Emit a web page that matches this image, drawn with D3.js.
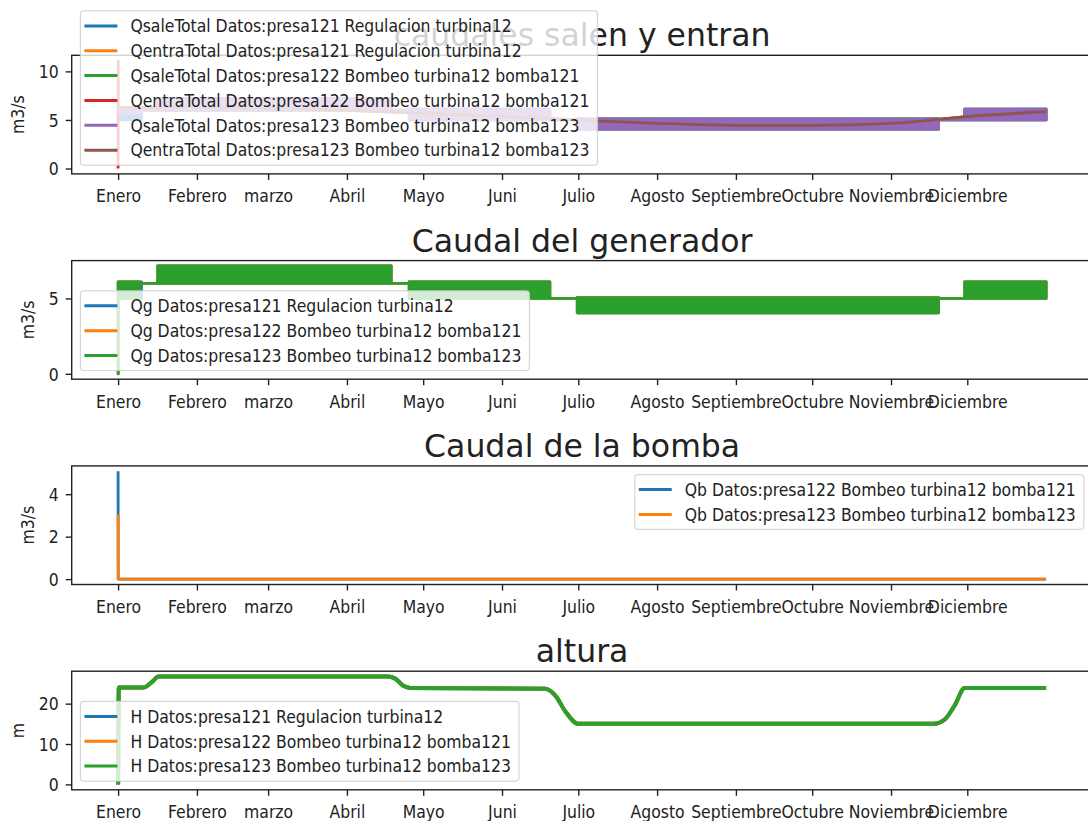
<!DOCTYPE html>
<html lang="es">
<head>
<meta charset="UTF-8"/>
<title>Caudales y altura</title>
<script src="https://d3js.org/d3.v7.min.js"></script>
<style>
  body { margin: 0; background: #fff; }
  text { fill: #222; }
  .small { font-family: "DejaVu Sans Condensed", "DejaVu Sans", sans-serif; font-stretch: condensed; font-size: 17.4px; }
  .title { font-family: "DejaVu Sans", sans-serif; font-size: 31.5px; }
</style>
</head>
<body>
<div id="chart"></div>
<script>

// x axis: day of year, ticks at month starts
var monthDays = [0, 31, 59, 90, 120, 151, 181, 212, 243, 273, 304, 334];
var monthNames = ["Enero", "Febrero", "marzo", "Abril", "Mayo", "Juni", "Julio", "Agosto", "Septiembre", "Octubre", "Noviembre", "Diciembre"];
var yearEnd = 365;

// panel 1 - outflow bands (start day, low, high of the daily swing)
var saleStart123 = [0, 8.5, 15.6, 107.4, 114.5, 169.8, 180.6, 322.7, 333];
var saleLo123 = [5.7, 6, 6, 6, 5, 5, 4.05, 5, 5];
var saleHi123 = [6.1, 6, 7.2, 6, 6.1, 5, 5.1, 5, 6.1];
var saleStart121 = [0, 9.2, 15.6, 107.4, 114.5, 169.8, 180.6, 322.7, 333];
var saleLo121 = [5, 6, 6, 6, 5, 5, 4.05, 5, 5];
var saleHi121 = [6.1, 6, 7.2, 6, 6.1, 5, 5.1, 5, 6.1];
// panel 1 - inflow (smooth)
var entraDays = [0, 31, 59, 90, 120, 151, 181, 212, 243, 273, 304, 334, 365];
var entraVals = [6.3, 6.3, 6.2, 6.0, 5.7, 5.35, 5.0, 4.65, 4.45, 4.45, 4.65, 5.35, 5.85];
var spikeDays = [0, 0.04, 0.08];
var spikeVals = [0, 11.1, 6.3];

// panel 2 - generator flow bands
var qgStart123 = [0, 0.04, 8.5, 15.6, 107.4, 114.5, 169.8, 180.6, 322.7, 333];
var qgStart121 = [0, 0.04, 9.2, 15.6, 107.4, 114.5, 169.8, 180.6, 322.7, 333];
var qgLo = [0, 5, 6, 6, 6, 5, 5, 4.05, 5, 5];
var qgHi = [0, 6.1, 6, 7.15, 6, 6.1, 5, 5.05, 5, 6.1];

// panel 3 - pump flow
var qbDays = [0, 0.04, 365];
var qb122 = [5.08, 0, 0];
var qb123 = [3.04, 0, 0];

// panel 4 - head
var hDays = [0, 0.3, 10, 13, 16, 106, 109, 112, 115, 168, 172, 176, 181, 321, 325, 329, 333, 365];
var hVals = [0, 24, 24, 25.2, 26.7, 26.7, 26.2, 24.5, 23.9, 23.7, 22, 18, 15, 15, 16, 19.5, 23.9, 23.9];

var yTicks1 = [0, 5, 10], yTicks2 = [0, 5], yTicks3 = [0, 2, 4], yTicks4 = [0, 10, 20];

var C = ["#1f77b4", "#ff7f0e", "#2ca02c", "#d62728", "#9467bd", "#8c564b"];

function bandData(start, lo, hi) {
    var d = start.map(function(s, i) { return {t: s, lo: lo[i], hi: hi[i]}; });
    var last = d[d.length - 1];
    d.push({t: yearEnd, lo: last.lo, hi: last.hi});
    return d;
}
function lineData(days, vals) {
    return days.map(function(t, i) { return {t: t, v: vals[i]}; });
}

var panels = [
  {title: "caudales salen y entran", ylab: "m3/s", ticks: yTicks1, legend: "lowerleft", series: [
    {name: "QsaleTotal Datos:presa121 Regulacion turbina12", color: C[0], band: bandData(saleStart121, saleLo121, saleHi121)},
    {name: "QentraTotal Datos:presa121 Regulacion turbina12", color: C[1], line: lineData(entraDays, entraVals)},
    {name: "QsaleTotal Datos:presa122 Bombeo turbina12 bomba121", color: C[2], band: bandData(saleStart123, saleLo123, saleHi123)},
    {name: "QentraTotal Datos:presa122 Bombeo turbina12 bomba121", color: C[3], line: lineData(spikeDays.concat(entraDays.slice(1)), spikeVals.concat(entraVals.slice(1)))},
    {name: "QsaleTotal Datos:presa123 Bombeo turbina12 bomba123", color: C[4], band: bandData(saleStart123, saleLo123, saleHi123)},
    {name: "QentraTotal Datos:presa123 Bombeo turbina12 bomba123", color: C[5], line: lineData(entraDays, entraVals)}
  ]},
  {title: "Caudal del generador", ylab: "m3/s", ticks: yTicks2, legend: "lowerleft", series: [
    {name: "Qg Datos:presa121 Regulacion turbina12", color: C[0], band: bandData(qgStart121, qgLo, qgHi)},
    {name: "Qg Datos:presa122 Bombeo turbina12 bomba121", color: C[1], band: bandData(qgStart123, qgLo, qgHi)},
    {name: "Qg Datos:presa123 Bombeo turbina12 bomba123", color: C[2], band: bandData(qgStart123, qgLo, qgHi)}
  ]},
  {title: "Caudal de la bomba", ylab: "m3/s", ticks: yTicks3, legend: "upperright", series: [
    {name: "Qb Datos:presa122 Bombeo turbina12 bomba121", color: C[0], line: lineData(qbDays, qb122), linear: true},
    {name: "Qb Datos:presa123 Bombeo turbina12 bomba123", color: C[1], line: lineData(qbDays, qb123), linear: true}
  ]},
  {title: "altura", ylab: "m", ticks: yTicks4, legend: "lowerleft", series: [
    {name: "H Datos:presa121 Regulacion turbina12", color: C[0], line: lineData(hDays, hVals), thick: true},
    {name: "H Datos:presa122 Bombeo turbina12 bomba121", color: C[1], line: lineData(hDays, hVals), thick: true},
    {name: "H Datos:presa123 Bombeo turbina12 bomba123", color: C[2], line: lineData(hDays, hVals), thick: true}
  ]}
];

var W = 1088, H = 821;
var left = 71.7, right = 1092.5;
var top0 = 55.3, step = 205.3, ph = 118.6;

var svg = d3.select("#chart").append("svg")
    .attr("width", W).attr("height", H)
    .style("display", "block");
svg.append("rect").attr("width", W).attr("height", H).attr("fill", "#fff");

var xScale = d3.scaleLinear()
    .domain([-0.05 * yearEnd, yearEnd * 1.05])
    .range([left, right]);

panels.forEach(function(p, k) {
    var top = top0 + k * step, bottom = top + ph;

    var maxV = 0;
    p.series.forEach(function(s) {
        if (s.band) maxV = Math.max(maxV, d3.max(s.band, function(d) { return d.hi; }));
        if (s.line) maxV = Math.max(maxV, d3.max(s.line, function(d) { return d.v; }));
    });
    var yScale = d3.scaleLinear()
        .domain([-0.05 * maxV, maxV * 1.05])
        .range([bottom, top]);

    var g = svg.append("g");

    // title
    g.append("text").attr("class", "title")
        .attr("x", (left + right) / 2).attr("y", top - 9)
        .attr("text-anchor", "middle")
        .text(p.title);

    var clipId = "clip" + k;
    g.append("clipPath").attr("id", clipId).append("rect")
        .attr("x", left).attr("y", top).attr("width", right - left).attr("height", ph);
    var plot = g.append("g").attr("clip-path", "url(#" + clipId + ")");

    var area = d3.area()
        .x(function(d) { return xScale(d.t); })
        .y0(function(d) { return yScale(d.lo); })
        .y1(function(d) { return yScale(d.hi); })
        .curve(d3.curveStepAfter);

    p.series.forEach(function(s) {
        if (s.band) {
            plot.append("path").datum(s.band)
                .attr("d", area)
                .attr("fill", s.color)
                .attr("stroke", s.color)
                .attr("stroke-width", 2.8)
                .attr("stroke-linejoin", "round");
        } else {
            var line = d3.line()
                .x(function(d) { return xScale(d.t); })
                .y(function(d) { return yScale(d.v); })
                .curve(s.linear ? d3.curveLinear : d3.curveMonotoneX);
            plot.append("path").datum(s.line)
                .attr("d", line)
                .attr("fill", "none")
                .attr("stroke", s.color)
                .attr("stroke-width", s.thick ? 4 : 2.8)
                .attr("stroke-linejoin", "round");
        }
    });

    // spines
    g.append("rect")
        .attr("x", left).attr("y", top).attr("width", right - left).attr("height", ph)
        .attr("fill", "none").attr("stroke", "#222").attr("stroke-width", 1.4);

    // axes
    var xAxis = g.append("g").attr("class", "small")
        .attr("transform", "translate(0," + bottom + ")")
        .call(d3.axisBottom(xScale).tickValues(monthDays)
            .tickFormat(function(d, i) { return monthNames[i]; })
            .tickSize(6).tickPadding(10));
    var yAxis = g.append("g").attr("class", "small")
        .attr("transform", "translate(" + left + ",0)")
        .call(d3.axisLeft(yScale).tickValues(p.ticks).tickFormat(d3.format("d"))
            .tickSize(6).tickPadding(7));
    [xAxis, yAxis].forEach(function(a) {
        a.select(".domain").remove();
        a.attr("font-family", null).attr("font-size", null);
        a.selectAll("line").attr("stroke", "#222").attr("stroke-width", 1.4);
        a.selectAll("text").attr("fill", "#222");
    });
    yAxis.selectAll("text").attr("dy", "0.36em");

    var yb = yAxis.node().getBBox();
    g.append("text").attr("class", "small")
        .attr("transform", "translate(" + (left + yb.x - 15) + "," + ((top + bottom) / 2) + ") rotate(-90)")
        .attr("text-anchor", "middle")
        .text(p.ylab);

    // legend
    var pitch = 24.86, padY = 15, off = 8.7;
    var n = p.series.length;
    var lg = g.append("g");
    var frame = lg.append("rect");
    var maxW = 0;
    var texts = p.series.map(function(s, i) {
        var t = lg.append("text").attr("class", "small").text(s.name);
        maxW = Math.max(maxW, t.node().getComputedTextLength());
        return t;
    });
    var lw = 50 + maxW + 8, lh = (n - 1) * pitch + 2 * padY;
    var lx, ly;
    if (p.legend === "upperright") { lx = right - off - lw; ly = top + off; }
    else { lx = left + off; ly = bottom - off - lh; }
    frame.attr("x", lx).attr("y", ly).attr("width", lw).attr("height", lh)
        .attr("rx", 3.5)
        .attr("fill", "#fff").attr("fill-opacity", 0.8)
        .attr("stroke", "#ccc").attr("stroke-opacity", 0.8).attr("stroke-width", 1.2);
    p.series.forEach(function(s, i) {
        var cy = ly + padY + i * pitch;
        lg.append("line")
            .attr("x1", lx + 4).attr("x2", lx + 37)
            .attr("y1", cy).attr("y2", cy)
            .attr("stroke", s.color).attr("stroke-width", 3);
        texts[i].attr("x", lx + 50).attr("y", cy).attr("dy", "0.36em");
    });
});

</script>
</body>
</html>
